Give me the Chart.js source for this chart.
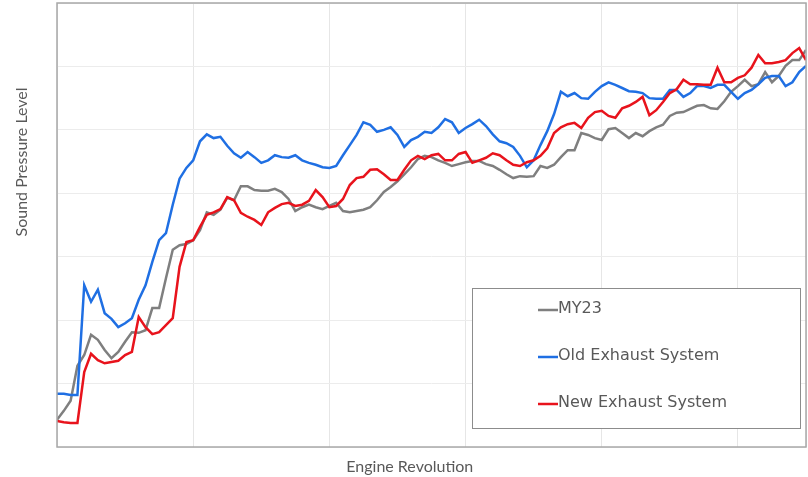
<!DOCTYPE html>
<html>
<head>
<meta charset="utf-8">
<script src="https://cdn.jsdelivr.net/npm/chart.js@4.4.1/dist/chart.umd.min.js"></script>
<style>
  body { margin: 0; background: #fff; }
  canvas { display: block; }
</style>
</head>
<body>
<canvas id="grafico" width="808" height="477"></canvas>
<script>
// Engine speed (rpm), one reading every 50 rpm
const rpm = [
  1000, 1050, 1100, 1150, 1200, 1250, 1300, 1350, 1400, 1450,
  1500, 1550, 1600, 1650, 1700, 1750, 1800, 1850, 1900, 1950,
  2000, 2050, 2100, 2150, 2200, 2250, 2300, 2350, 2400, 2450,
  2500, 2550, 2600, 2650, 2700, 2750, 2800, 2850, 2900, 2950,
  3000, 3050, 3100, 3150, 3200, 3250, 3300, 3350, 3400, 3450,
  3500, 3550, 3600, 3650, 3700, 3750, 3800, 3850, 3900, 3950,
  4000, 4050, 4100, 4150, 4200, 4250, 4300, 4350, 4400, 4450,
  4500, 4550, 4600, 4650, 4700, 4750, 4800, 4850, 4900, 4950,
  5000, 5050, 5100, 5150, 5200, 5250, 5300, 5350, 5400, 5450,
  5500, 5550, 5600, 5650, 5700, 5750, 5800, 5850, 5900, 5950,
  6000, 6050, 6100, 6150, 6200, 6250, 6300, 6350, 6400, 6450,
  6500
];

// Sound pressure level (dB) per series
const my23 = [
  44.3, 45.7, 47.3, 52.8, 54.5, 57.7, 56.9, 55.3, 54.0, 55.0,
  56.6, 58.1, 58.0, 58.4, 61.9, 61.9, 66.6, 71.1, 71.8, 72.0,
  72.6, 74.2, 77.0, 76.6, 77.4, 79.3, 78.9, 81.1, 81.1, 80.5,
  80.4, 80.4, 80.7, 80.2, 79.1, 77.2, 77.8, 78.2, 77.8, 77.5,
  78.0, 78.5, 77.2, 77.0, 77.2, 77.4, 77.8, 78.9, 80.2, 81.0,
  81.9, 83.0, 84.1, 85.4, 85.9, 85.7, 85.2, 84.8, 84.3, 84.6,
  84.9, 85.1, 85.1, 84.6, 84.3, 83.7, 83.0, 82.4, 82.7, 82.6,
  82.7, 84.3, 84.0, 84.5, 85.7, 86.8, 86.8, 89.5, 89.2, 88.7,
  88.4, 90.1, 90.3, 89.5, 88.7, 89.5, 89.0, 89.8, 90.4, 90.8,
  92.2, 92.7, 92.8, 93.3, 93.8, 93.9, 93.4, 93.3, 94.5, 96.0,
  96.9, 97.9, 96.9, 97.2, 99.1, 97.5, 98.5, 100.1, 101.0, 101.0,
  102.6
];

const oldExhaust = [
  48.4, 48.4, 48.2, 48.2, 65.5, 62.9, 64.8, 61.1, 60.2, 58.9,
  59.5, 60.3, 63.2, 65.5, 69.2, 72.6, 73.7, 78.2, 82.3, 84.0,
  85.2, 88.2, 89.3, 88.7, 88.9, 87.5, 86.3, 85.6, 86.5, 85.7,
  84.8, 85.2, 86.0, 85.7, 85.6, 86.0, 85.2, 84.8, 84.5, 84.1,
  84.0, 84.3, 86.0, 87.6, 89.2, 91.2, 90.8, 89.7, 90.0, 90.4,
  89.2, 87.3, 88.4, 88.9, 89.7, 89.5, 90.4, 91.7, 91.2, 89.5,
  90.3, 90.9, 91.6, 90.6, 89.3, 88.2, 87.9, 87.3, 85.9, 84.1,
  85.2, 87.6, 89.8, 92.5, 96.0, 95.3, 95.8, 95.0, 94.9, 96.0,
  96.9, 97.5, 97.1, 96.6, 96.1, 96.0, 95.8, 95.0, 94.9, 94.9,
  96.3, 96.3, 95.2, 95.8, 96.9, 96.9, 96.6, 97.1, 97.1, 96.0,
  94.9, 95.8, 96.3, 97.2, 98.2, 98.5, 98.5, 96.9, 97.5, 99.1,
  100.1
];

const newExhaust = [
  44.1, 43.9, 43.8, 43.8, 51.8, 54.7, 53.7, 53.2, 53.4, 53.6,
  54.5, 55.0, 60.5, 58.9, 57.8, 58.1, 59.2, 60.3, 68.4, 72.3,
  72.6, 74.7, 76.6, 77.0, 77.5, 79.4, 78.9, 76.9, 76.3, 75.8,
  75.0, 77.0, 77.7, 78.3, 78.5, 78.0, 78.2, 78.8, 80.5, 79.4,
  77.8, 78.0, 79.1, 81.3, 82.4, 82.6, 83.7, 83.8, 83.0, 82.1,
  82.1, 83.7, 85.2, 85.9, 85.4, 86.0, 86.2, 85.2, 85.2, 86.2,
  86.5, 84.8, 85.2, 85.6, 86.3, 86.0, 85.2, 84.5, 84.3, 84.9,
  85.2, 85.9, 87.1, 89.5, 90.4, 90.9, 91.1, 90.3, 91.9, 92.8,
  93.0, 92.2, 91.9, 93.4, 93.8, 94.4, 95.2, 92.3, 93.1, 94.4,
  95.8, 96.4, 97.9, 97.2, 97.2, 97.1, 97.1, 99.8, 97.5, 97.5,
  98.2, 98.6, 99.8, 101.8, 100.5, 100.5, 100.7, 101.0, 102.1, 102.9,
  101.0
];

// Líneas de la rejilla (sin etiquetas visibles)
const xTicks = [1000, 2000, 3000, 4000, 5000, 6000, 6500];
const yTicks = [40, 50, 60, 70, 80, 90, 100, 110];

const seriesNames = ['MY23', 'Old Exhaust System', 'New Exhaust System'];
const xTitle = 'Engine Revolution';
const yTitle = 'Sound Pressure Level';

const colores = ['#7f7f7f', '#1f6fe3', '#e8131c'];
const textColor = '#595959';

function puntos(valores) {
  return valores.map((v, i) => ({ x: rpm[i], y: v }));
}

// Marco, leyenda y títulos dibujados a mano
const extras = {
  id: 'extras',
  afterDatasetsDraw(chart) {
    const ctx = chart.ctx;
    const a = chart.chartArea;
    ctx.save();
    ctx.strokeStyle = '#a8a8a8';
    ctx.lineWidth = 1.5;
    ctx.strokeRect(a.left, a.top, a.right - a.left, a.bottom - a.top);

    // caja de la leyenda
    const bx = 472, by = 288, bw = 328, bh = 140;
    ctx.fillStyle = '#fff';
    ctx.fillRect(bx, by, bw, bh);
    ctx.strokeStyle = '#8c8c8c';
    ctx.lineWidth = 1;
    ctx.strokeRect(bx + 0.5, by + 0.5, bw, bh);

    ctx.font = '16px "DejaVu Sans"';
    ctx.textBaseline = 'middle';
    ctx.textAlign = 'left';
    seriesNames.forEach((name, i) => {
      const y = 309 + i * 47;
      ctx.strokeStyle = colores[i];
      ctx.lineWidth = 2.5;
      ctx.beginPath();
      ctx.moveTo(538, y + 1);
      ctx.lineTo(558, y + 1);
      ctx.stroke();
      ctx.fillStyle = textColor;
      ctx.fillText(name, 558, y);
    });

    // títulos de los ejes
    ctx.fillStyle = textColor;
    ctx.font = '16px Lato';
    ctx.textAlign = 'center';
    ctx.fillText(xTitle, a.left + (a.right - a.left) * 0.471, 467);
    ctx.translate(22, a.top + (a.bottom - a.top) * 0.358);
    ctx.rotate(-Math.PI / 2);
    ctx.fillText(yTitle, 0, 0);
    ctx.restore();
  }
};

new Chart(document.getElementById('grafico'), {
  type: 'line',
  data: {
    datasets: [
      { label: seriesNames[0], data: puntos(my23), borderColor: colores[0], order: 3 },
      { label: seriesNames[1], data: puntos(oldExhaust), borderColor: colores[1], order: 2 },
      { label: seriesNames[2], data: puntos(newExhaust), borderColor: colores[2], order: 1 }
    ]
  },
  options: {
    responsive: false,
    animation: false,
    layout: { padding: { left: 57, top: 3, right: 2, bottom: 30 } },
    elements: {
      point: { radius: 0 },
      line: { borderWidth: 2.5, tension: 0, fill: false }
    },
    scales: {
      x: {
        type: 'linear',
        min: xTicks[0],
        max: xTicks[xTicks.length - 1],
        afterBuildTicks: axis => { axis.ticks = xTicks.map(v => ({ value: v })); },
        ticks: { display: false },
        grid: { color: '#e6e6e6', drawTicks: false },
        border: { display: false }
      },
      y: {
        min: yTicks[0],
        max: yTicks[yTicks.length - 1],
        afterBuildTicks: axis => { axis.ticks = yTicks.map(v => ({ value: v })); },
        ticks: { display: false },
        grid: { color: '#ececec', drawTicks: false },
        border: { display: false }
      }
    },
    plugins: {
      legend: { display: false },
      tooltip: { enabled: false }
    }
  },
  plugins: [extras]
});
</script>
</body>
</html>
